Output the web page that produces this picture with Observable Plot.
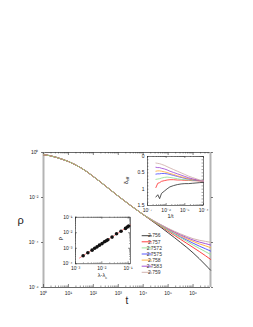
<!DOCTYPE html>
<html><head><meta charset="utf-8">
<script src="https://cdn.jsdelivr.net/npm/d3@7"></script>
<script src="https://cdn.jsdelivr.net/npm/@observablehq/plot@0.6"></script>
<style>
body{margin:0;background:#fff;}
#wrap{position:relative;width:253px;height:327px;overflow:hidden;}
#wrap svg{position:absolute;}
</style></head><body><div id="wrap"></div>
<script>
// ---------- data ----------
const lambdas = ["2.756","2.757","2.7572","2.7575","2.758","2.7583","2.759"];
const colors  = ["#2a2a2a","#ff2a2a","#8fe08f","#4646ff","#ffaa33","#9b40d2","#cdaaa6"];
const drawOrder = ["2.756","2.7575","2.758","2.7583","2.759","2.757","2.7572"];

// main plot: log10 t and log10 rho
const logTcommon   = [0,0.25,0.5,0.75,1,1.25,1.5,1.75,2,2.25,2.5,2.75,3,3.25,3.5,3.75];
const logRhoCommon = [-0.10,-0.14,-0.21,-0.30,-0.40,-0.53,-0.68,-0.86,-1.07,-1.28,-1.50,-1.72,-1.94,-2.15,-2.36,-2.56];
const logTtail = [4.0,4.25,4.5,4.75,5.0,5.25,5.5,5.75,6.0,6.25,6.5,6.7];
const tail_2756   = [-2.76,-2.96,-3.16,-3.36,-3.57,-3.78,-4.00,-4.22,-4.46,-4.72,-5.00,-5.23];
const tail_2757   = [-2.76,-2.95,-3.13,-3.31,-3.50,-3.68,-3.86,-4.04,-4.22,-4.40,-4.59,-4.75];
const tail_27572  = [-2.76,-2.94,-3.12,-3.29,-3.46,-3.63,-3.79,-3.95,-4.11,-4.26,-4.41,-4.53];
const tail_27575  = [-2.76,-2.94,-3.11,-3.28,-3.44,-3.60,-3.75,-3.89,-4.03,-4.16,-4.28,-4.38];
const tail_2758   = [-2.76,-2.93,-3.10,-3.26,-3.41,-3.56,-3.70,-3.83,-3.95,-4.06,-4.15,-4.23];
const tail_27583  = [-2.76,-2.93,-3.09,-3.24,-3.39,-3.53,-3.66,-3.78,-3.89,-3.98,-4.05,-4.11];
const tail_2759   = [-2.76,-2.92,-3.08,-3.23,-3.37,-3.50,-3.62,-3.73,-3.83,-3.90,-3.95,-3.99];
const tails = [tail_2756,tail_2757,tail_27572,tail_27575,tail_2758,tail_27583,tail_2759];

// inset 1: effective exponent vs 1/t
const logInvT = [-6.55,-6.45,-6.35,-6.25,-6.1,-5.95,-5.8,-5.6,-5.4,-5.2,-5.0,-4.8,-4.6,-4.4,-4.2,-4.0];
const eff_2756  = [1.24,1.17,1.29,1.13,1.06,0.99,0.93,0.89,0.86,0.84,0.83,0.83,0.82,0.81,0.80,0.79];
const eff_2757  = [0.95,0.82,0.80,0.76,0.74,0.72,0.71,0.71,0.72,0.72,0.73,0.73,0.74,0.74,0.75,0.75];
const eff_27572 = [0.70,0.69,0.68,0.66,0.64,0.63,0.64,0.66,0.68,0.70,0.71,0.72,0.73,0.74,0.74,0.75];
const eff_27575 = [0.54,0.53,0.53,0.52,0.52,0.53,0.55,0.58,0.61,0.64,0.67,0.69,0.71,0.73,0.74,0.75];
const eff_2758  = [0.45,0.44,0.44,0.45,0.47,0.49,0.52,0.55,0.59,0.62,0.65,0.68,0.70,0.72,0.74,0.75];
const eff_27583 = [0.33,0.34,0.34,0.36,0.38,0.41,0.45,0.49,0.53,0.57,0.61,0.65,0.68,0.71,0.73,0.75];
const eff_2759  = [0.20,0.21,0.22,0.24,0.27,0.31,0.35,0.40,0.45,0.50,0.55,0.60,0.64,0.68,0.72,0.75];
const effs = [eff_2756,eff_2757,eff_27572,eff_27575,eff_2758,eff_27583,eff_2759];

// inset 2: rho vs lambda - lambda_c (log10 values)
const logDLambda = [-2.71,-2.53,-2.37,-2.27,-2.18,-2.09,-1.99,-1.90,-1.83,-1.77,-1.61,-1.44,-1.27,-1.10,-1.03,-0.98];
const logRhoSat  = [-3.48,-3.29,-3.12,-3.00,-2.91,-2.80,-2.70,-2.58,-2.52,-2.45,-2.28,-2.07,-1.90,-1.72,-1.63,-1.57];
const fitLogDLambda = [-2.85,-0.92];
const fitLogRho     = [-3.63,-1.51];

// tick values
const mainXTicks = [1e0,1e1,1e2,1e3,1e4,1e5,1e6];
const mainYTicks = [1e-6,1e-4,1e-2,1e0];
const in1XTicks = [1e-7,1e-6,1e-5,1e-4];
const in1YTicks = [0,0.5,1,1.5];
const in2XTicks = [1e-3,1e-2,1e-1];
const in2YTicks = [1e-4,1e-3,1e-2,1e-1];

// ---------- helpers ----------
const supMap = {"-":"⁻","0":"⁰","1":"¹","2":"²","3":"³","4":"⁴","5":"⁵","6":"⁶","7":"⁷","8":"⁸","9":"⁹"};
const pow10 = d => "10" + String(Math.round(Math.log10(d))).split("").map(c => supMap[c]).join("");
function minors(lo, hi){ const out=[]; for(let e=Math.floor(Math.log10(lo)); e<=Math.ceil(Math.log10(hi)); e++){ for(let m=2;m<=9;m++){ const v=m*Math.pow(10,e); if(v>lo && v<hi) out.push(v);} } return out; }
const font = "'Liberation Sans', Arial, sans-serif";
const wrap = document.getElementById("wrap");
function place(svg,left,top){ svg.style.left=left+"px"; svg.style.top=top+"px"; wrap.appendChild(svg); return svg; }
const baseStyle = {background:"transparent", fontFamily:font, fontSize:"5px", color:"#222", overflow:"visible"};

// ---------- main plot ----------
const mainData = [];
drawOrder.forEach(lam => {
  const i = lambdas.indexOf(lam);
  logTcommon.forEach((lt,j) => mainData.push({s:lam, t:10**lt, rho:10**logRhoCommon[j]}));
  logTtail.forEach((lt,j) => mainData.push({s:lam, t:10**lt, rho:10**tails[i][j]}));
});
const M = {w:253,h:327,l:43,r:43,t:152,b:40};
const FH = M.h - M.t - M.b;
const xMin = minors(1,5e6);
const mainSvg = Plot.plot({
  width:M.w, height:M.h, marginLeft:M.l, marginRight:M.r, marginTop:M.t, marginBottom:M.b,
  x:{type:"log", domain:[1,5e6]},
  y:{type:"log", domain:[1e-6,1]},
  color:{domain:lambdas, range:colors},
  style:baseStyle,
  marks:[
    Plot.ruleY([1,1e-6], {stroke:"#444", strokeWidth:0.8}),
    Plot.ruleX([1,5e6], {stroke:"#b4b4b4", strokeWidth:2}),
    Plot.tickX(mainXTicks, {x:d=>d, insetTop:FH-3, stroke:"#333", strokeWidth:0.6}),
    Plot.tickX(mainXTicks, {x:d=>d, insetBottom:FH-3, stroke:"#333", strokeWidth:0.6}),
    Plot.tickX(xMin, {x:d=>d, insetTop:FH-1.5, stroke:"#333", strokeWidth:0.5}),
    Plot.tickX(xMin, {x:d=>d, insetBottom:FH-1.5, stroke:"#333", strokeWidth:0.5}),
    Plot.axisX({ticks:mainXTicks, tickSize:0, tickPadding:4, tickFormat:pow10, label:null}),
    Plot.axisY({ticks:mainYTicks, tickSize:2, tickPadding:3, tickFormat:pow10, label:null, strokeWidth:0.6}),
    Plot.axisY({anchor:"right", ticks:mainYTicks, tickSize:2, tickFormat:()=>"", label:null, strokeWidth:0.6}),
    Plot.line(mainData, {x:"t", y:"rho", z:"s", stroke:"s", strokeWidth:0.9, curve:"monotone-x"}),
    Plot.text(["t"], {text:d=>d, frameAnchor:"bottom", dy:16, fontSize:10}),
    Plot.text(["ρ"], {text:d=>d, frameAnchor:"left", dx:-26, fontSize:11})
  ]
});
place(mainSvg,0,0);
// legend
const lg = d3.select(mainSvg).append("g").attr("font-family",font).attr("font-size",5).attr("fill","#333");
lambdas.forEach((lam,i) => {
  const y = 235.7 + i*6.1;
  lg.append("line").attr("x1",141.7).attr("x2",151.7).attr("y1",y).attr("y2",y).attr("stroke",colors[i]).attr("stroke-width",0.9);
  lg.append("text").attr("x",154.3).attr("y",y).attr("dy","0.35em").text(lam);
});

// ---------- inset 1 ----------
const in1Data = [];
lambdas.forEach((lam,i) => logInvT.forEach((lx,j) => in1Data.push({s:lam, x:10**lx, d:effs[i][j]})));
const I1 = {w:110,h:75,l:47,r:7,t:6,b:20};
const I1W = I1.w-I1.l-I1.r, I1H = I1.h-I1.t-I1.b;
const in1YMinor = d3.range(0,1.51,0.1).map(v=>+v.toFixed(2));
const in1 = Plot.plot({
  width:I1.w, height:I1.h, marginLeft:I1.l, marginRight:I1.r, marginTop:I1.t, marginBottom:I1.b,
  x:{type:"log", domain:[1e-7,1e-4]},
  y:{domain:[0,1.5], reverse:true},
  color:{domain:lambdas, range:colors},
  style:baseStyle,
  marks:[
    Plot.frame({fill:"white", stroke:"#222", strokeWidth:0.6}),
    Plot.tickX(in1XTicks, {x:d=>d, insetTop:I1H-2, stroke:"#222", strokeWidth:0.5}),
    Plot.tickX(in1XTicks, {x:d=>d, insetBottom:I1H-2, stroke:"#222", strokeWidth:0.5}),
    Plot.tickX(minors(1e-7,1e-4), {x:d=>d, insetTop:I1H-1, stroke:"#222", strokeWidth:0.4}),
    Plot.tickX(minors(1e-7,1e-4), {x:d=>d, insetBottom:I1H-1, stroke:"#222", strokeWidth:0.4}),
    Plot.tickY(in1YMinor, {y:d=>d, insetRight:I1W-1.5, stroke:"#222", strokeWidth:0.4}),
    Plot.tickY(in1YMinor, {y:d=>d, insetLeft:I1W-1.5, stroke:"#222", strokeWidth:0.4}),
    Plot.axisX({ticks:in1XTicks, tickSize:0, tickPadding:3, tickFormat:pow10, label:null}),
    Plot.axisY({ticks:in1YTicks, tickSize:0, tickPadding:3, tickFormat:d=>String(d), label:null}),
    Plot.line(in1Data, {x:"x", y:"d", z:"s", stroke:"s", strokeWidth:0.8}),
    Plot.text(["1/t"], {text:d=>d, frameAnchor:"bottom", dy:12, dx:-5, fontSize:5.5})
  ]
});
place(in1,100,150);
const lab1 = d3.select(in1).append("text").attr("font-family",font).attr("font-size",6).attr("fill","#222")
  .attr("text-anchor","middle").attr("transform",`translate(${I1.l-19},${I1.t+I1H/2}) rotate(-90)`);
lab1.append("tspan").text("δ");
lab1.append("tspan").attr("font-size",4).attr("dy","1.2").text("eff");

// ---------- inset 2 ----------
const in2Dots = logDLambda.map((lx,i) => ({x:10**lx, y:10**logRhoSat[i]}));
const in2Fit = fitLogDLambda.map((lx,i) => ({x:10**lx, y:10**fitLogRho[i]}));
const I2 = {w:110,h:80,l:45,r:10,t:11.7,b:21.7};
const I2W = I2.w-I2.l-I2.r, I2H = I2.h-I2.t-I2.b;
const in2 = Plot.plot({
  width:I2.w, height:I2.h, marginLeft:I2.l, marginRight:I2.r, marginTop:I2.t, marginBottom:I2.b,
  x:{type:"log", domain:[1e-3,0.123]},
  y:{type:"log", domain:[1e-4,1e-1]},
  style:baseStyle,
  marks:[
    Plot.frame({fill:"white", stroke:"#222", strokeWidth:0.6}),
    Plot.tickX(in2XTicks, {x:d=>d, insetTop:I2H-2, stroke:"#222", strokeWidth:0.5}),
    Plot.tickX(in2XTicks, {x:d=>d, insetBottom:I2H-2, stroke:"#222", strokeWidth:0.5}),
    Plot.tickX(minors(1e-3,0.123), {x:d=>d, insetTop:I2H-1, stroke:"#222", strokeWidth:0.4}),
    Plot.tickX(minors(1e-3,0.123), {x:d=>d, insetBottom:I2H-1, stroke:"#222", strokeWidth:0.4}),
    Plot.tickY(in2YTicks, {y:d=>d, insetRight:I2W-2, stroke:"#222", strokeWidth:0.5}),
    Plot.tickY(in2YTicks, {y:d=>d, insetLeft:I2W-2, stroke:"#222", strokeWidth:0.5}),
    Plot.tickY(minors(1e-4,1e-1), {y:d=>d, insetRight:I2W-1, stroke:"#222", strokeWidth:0.4}),
    Plot.tickY(minors(1e-4,1e-1), {y:d=>d, insetLeft:I2W-1, stroke:"#222", strokeWidth:0.4}),
    Plot.axisX({ticks:in2XTicks, tickSize:0, tickPadding:3, tickFormat:pow10, label:null}),
    Plot.axisY({ticks:in2YTicks, tickSize:0, tickPadding:3, tickFormat:pow10, label:null}),
    Plot.line(in2Fit, {x:"x", y:"y", stroke:"#ff5050", strokeWidth:0.7}),
    Plot.dot(in2Dots, {x:"x", y:"y", r:1.8, fill:"#111", stroke:"none"}),
    Plot.text(["ρ"], {text:d=>d, frameAnchor:"left", dx:-15, fontSize:6, rotate:-90})
  ]
});
place(in2,30,205);
const lab2 = d3.select(in2).append("text").attr("font-family",font).attr("font-size",5.5).attr("fill","#222")
  .attr("text-anchor","middle").attr("x",I2.l+I2W/2).attr("y",I2.t+I2H+14);
lab2.append("tspan").text("λ-λ");
lab2.append("tspan").attr("font-size",4).attr("dy","1.2").text("c");
</script>
</body></html>
